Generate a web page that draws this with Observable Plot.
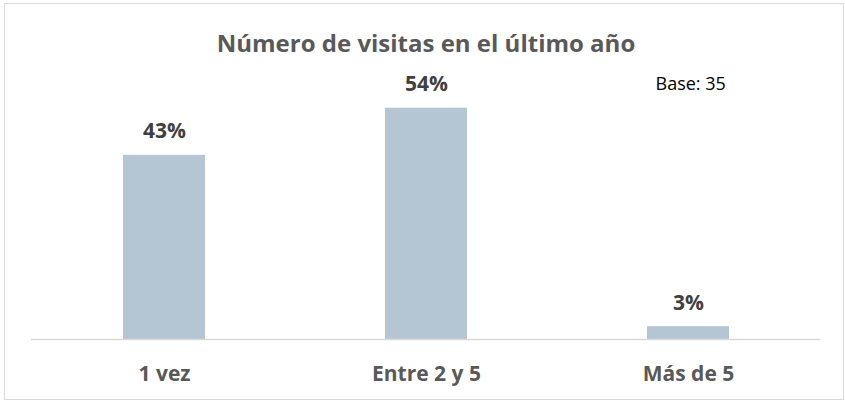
<!DOCTYPE html>
<html>
<head>
<meta charset="utf-8">
<script src="https://cdn.jsdelivr.net/npm/d3@7"></script>
<script src="https://cdn.jsdelivr.net/npm/@observablehq/plot@0.6"></script>
<style>
  html, body { margin: 0; padding: 0; background: #fff; }
  #wrap { position: relative; width: 845px; height: 404px; }
  #border { position: absolute; left: 4px; top: 3px; width: 838px; height: 395px; border: 1.5px solid #d9d9d9; box-sizing: content-box; pointer-events: none; }
  svg { display: block; }
</style>
</head>
<body>
<div id="wrap"><div id="border"></div></div>
<script>
const categories = ["1 vez", "Entre 2 y 5", "Más de 5"];
const values = [43, 54, 3];
const valueLabels = ["43%", "54%", "3%"];
const title = "Número de visitas en el último año";
const baseNote = "Base: 35";

const data = categories.map((c, i) => ({cat: c, v: values[i], label: valueLabels[i]}));
const font = "'Open Sans', 'DejaVu Sans', sans-serif";

const chart = Plot.plot({
  width: 845,
  height: 404,
  marginLeft: 31,
  marginRight: 25,
  marginTop: 82,
  marginBottom: 65,
  style: {fontFamily: font, background: "transparent"},
  x: {domain: categories, paddingInner: 0.688, paddingOuter: 0.346, axis: null},
  y: {domain: [0, 60], axis: null},
  marks: [
    Plot.barY(data, {x: "cat", y: "v", fill: "#b4c6d4"}),
    Plot.ruleY([0], {stroke: "#d9d9d9", strokeWidth: 1.5}),
    Plot.text(data, {x: "cat", y: "v", text: "label", lineAnchor: "bottom", dy: -17, fontSize: 21, fontWeight: "bold", fill: "#404040"}),
    Plot.text(data, {x: "cat", text: "cat", frameAnchor: "bottom", lineAnchor: "bottom", dy: 41, fontSize: 21, fontWeight: "bold", fill: "#595959"}),
    Plot.text([title], {frameAnchor: "top", lineAnchor: "bottom", dy: -31, fontSize: 24, fontWeight: "bold", fill: "#595959"}),
    Plot.text([baseNote], {frameAnchor: "top-right", textAnchor: "start", lineAnchor: "bottom", dx: -165, dy: 7, fontSize: 18, fill: "#000000"})
  ]
});
document.getElementById("wrap").prepend(chart);
</script>
</body>
</html>
